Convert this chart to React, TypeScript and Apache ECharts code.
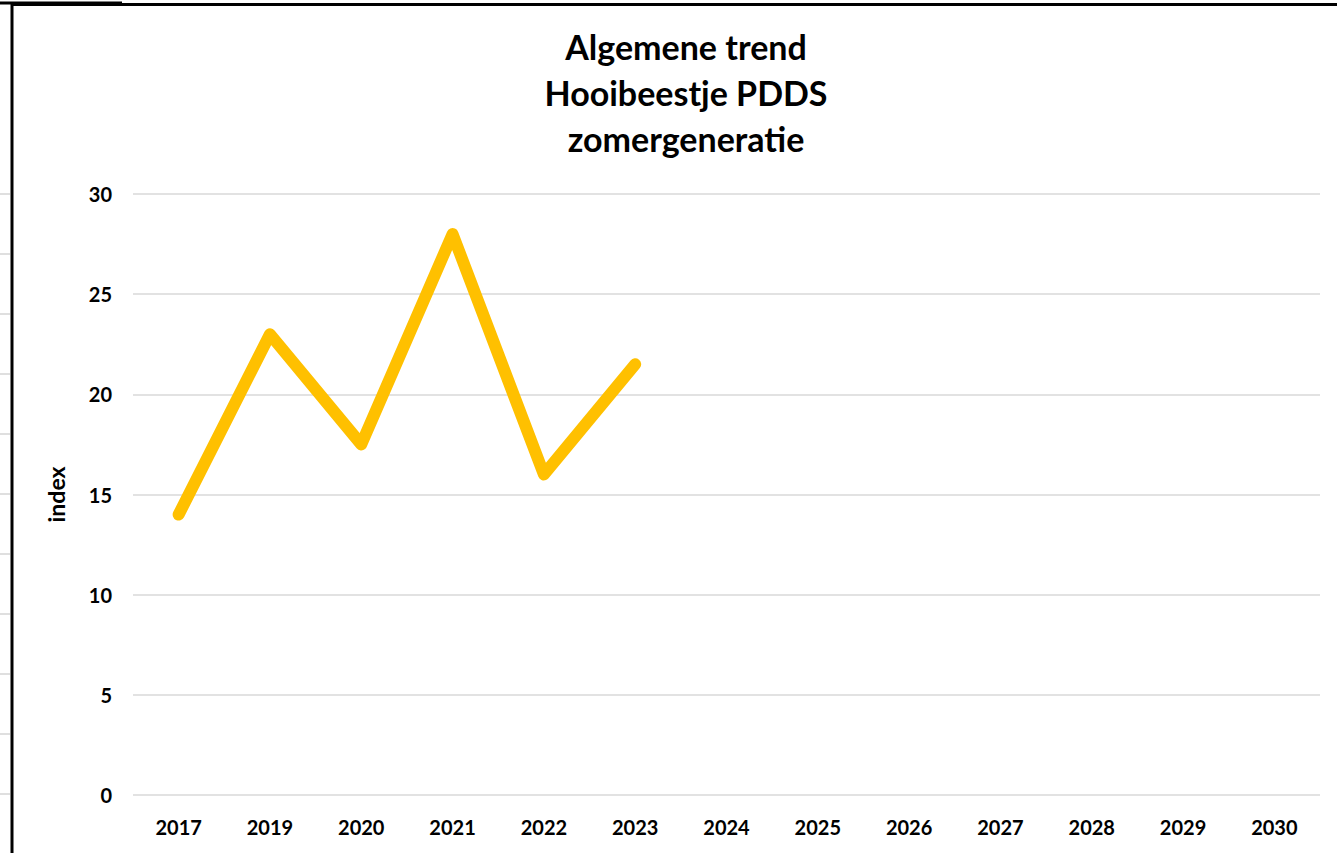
import React, { useEffect, useRef } from "react";
import * as echarts from "echarts";

const titleLines = ["Algemene trend", "Hooibeestje PDDS", "zomergeneratie"];
const categories = ["2017", "2019", "2020", "2021", "2022", "2023", "2024", "2025", "2026", "2027", "2028", "2029", "2030"];
const indexValues: (number | null)[] = [14, 23, 17.5, 28, 16, 21.5, null, null, null, null, null, null, null];
const yTicks = { min: 0, max: 30, interval: 5 };

export default function App() {
  const ref = useRef<HTMLDivElement>(null);
  useEffect(() => {
    if (!ref.current) return;
    const chart = echarts.init(ref.current, null, { renderer: "svg" });
    const stubs: any[] = [];
    for (let y = 194; y <= 800; y += 60) {
      stubs.push({
        type: "line",
        shape: { x1: 0, y1: y, x2: 10, y2: y },
        style: { stroke: "#d4d4d4", lineWidth: 1.5 },
        silent: true,
      });
    }
    chart.setOption({
      animation: false,
      backgroundColor: "#ffffff",
      title: {
        text: titleLines.join("\n"),
        left: 681,
        top: 18,
        textAlign: "center",
        textStyle: {
          fontFamily: "Lato",
          fontWeight: "bold",
          fontSize: 34,
          lineHeight: 46,
          color: "#000000",
        },
      },
      grid: { left: 133, right: 17, top: 194, bottom: 58, containLabel: false },
      xAxis: {
        type: "category",
        data: categories,
        boundaryGap: true,
        axisLine: { show: false },
        axisTick: { show: false },
        axisLabel: {
          margin: 22,
          fontFamily: "Lato",
          fontWeight: "bold",
          fontSize: 20,
          color: "#000000",
        },
      },
      yAxis: {
        type: "value",
        min: yTicks.min,
        max: yTicks.max,
        interval: yTicks.interval,
        name: "index",
        nameLocation: "middle",
        nameGap: 66,
        nameTextStyle: {
          fontFamily: "Lato",
          fontWeight: "bold",
          fontSize: 23,
          color: "#000000",
        },
        axisLine: { show: false },
        axisTick: { show: false },
        axisLabel: {
          margin: 21,
          fontFamily: "Lato",
          fontWeight: "bold",
          fontSize: 20,
          color: "#000000",
        },
        splitLine: { lineStyle: { color: "#d9d9d9", width: 1.5 } },
      },
      series: [
        {
          type: "line",
          data: indexValues,
          symbol: "none",
          connectNulls: false,
          lineStyle: { color: "#FFC000", width: 12, cap: "round", join: "round" },
        },
      ],
      graphic: [
        {
          type: "line",
          shape: { x1: 0, y1: 3, x2: 122, y2: 3 },
          style: { stroke: "#000000", lineWidth: 3 },
          silent: true,
        },
        {
          type: "line",
          shape: { x1: 12, y1: 4.5, x2: 1337, y2: 4.5 },
          style: { stroke: "#000000", lineWidth: 3 },
          silent: true,
        },
        {
          type: "line",
          shape: { x1: 12, y1: 3, x2: 12, y2: 853 },
          style: { stroke: "#000000", lineWidth: 3 },
          silent: true,
        },
        ...stubs,
      ],
    });
    return () => chart.dispose();
  }, []);
  return (
    <div
      ref={ref}
      style={{ position: "fixed", left: 0, top: 0, width: 1337, height: 853, background: "#fff" }}
    />
  );
}
